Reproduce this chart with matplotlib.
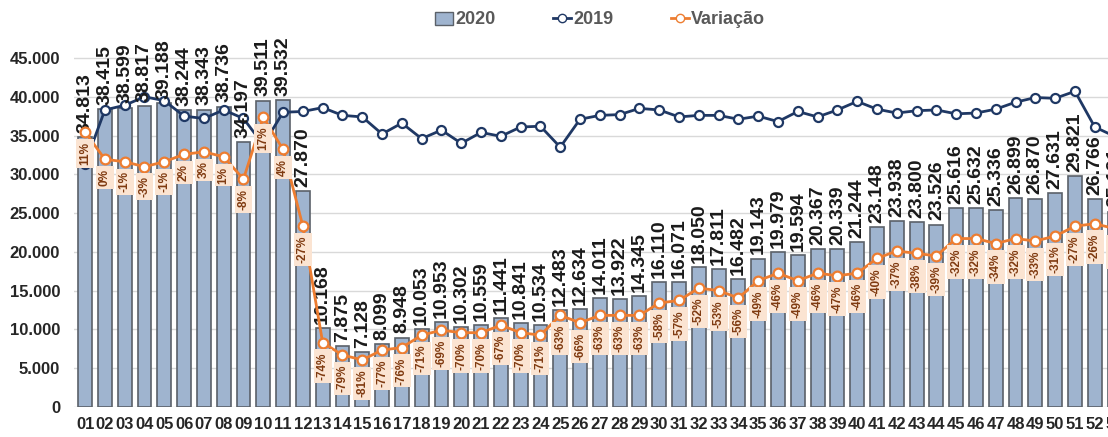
import matplotlib
matplotlib.use("Agg")
import matplotlib.pyplot as plt
from matplotlib.patches import Patch
from matplotlib.lines import Line2D
from matplotlib.ticker import FuncFormatter

plt.rcParams['font.family'] = ['Liberation Sans', 'DejaVu Sans']

# semanas
weeks = [f"{w:02d}" for w in range(1, 54)]

# 2020 (barras)
v2020 = [34813, 38415, 38599, 38817, 39188, 38244, 38343, 38736, 34197, 39511,
         39532, 27870, 10168, 7875, 7128, 8099, 8948, 10053, 10953, 10302,
         10559, 11441, 10841, 10534, 12483, 12634, 14011, 13922, 14345, 16110,
         16071, 18050, 17811, 16482, 19143, 19979, 19594, 20367, 20339, 21244,
         23148, 23938, 23800, 23526, 25616, 25632, 25336, 26899, 26870, 27631,
         29821, 26766, 25191]

# 2019 (linha azul)
v2019 = [31363, 38300, 38900, 40000, 39500, 37500, 37200, 38300, 37200, 33800,
         38000, 38100, 38600, 37600, 37400, 35200, 36600, 34600, 35700, 34000,
         35400, 34900, 36100, 36200, 33500, 37100, 37600, 37700, 38500, 38300,
         37400, 37600, 37600, 37100, 37500, 36800, 38100, 37400, 38300, 39400,
         38400, 37900, 38200, 38300, 37800, 37900, 38400, 39300, 39900, 39800,
         40700, 36100, 34900]

# variação (%)
variacao = [11, 0, -1, -3, -1, 2, 3, 1, -8, 17, 4, -27, -74, -79, -81, -77, -76,
            -71, -69, -70, -70, -67, -70, -71, -63, -66, -63, -63, -63, -58, -57,
            -52, -53, -56, -49, -46, -49, -46, -47, -46, -40, -37, -38, -39, -32,
            -32, -34, -32, -33, -31, -27, -26, -28]

yticks = [0, 5000, 10000, 15000, 20000, 25000, 30000, 35000, 40000, 45000]

bar_color = "#9fb4cf"
blue = "#1f3864"
orange = "#ed7d31"

x = list(range(len(weeks)))

fig = plt.figure(figsize=(11.08, 4.37), dpi=100)
ax = fig.add_axes([74 / 1108, 30 / 437, (1130 - 74) / 1108, 407 / 437])

ax.bar(x, v2020, width=0.7, color=bar_color, edgecolor="#5b6169", linewidth=1.2, zorder=2)
ax.plot(x, v2019, color=blue, linewidth=2, marker="o", markersize=6.5,
        markerfacecolor="white", markeredgecolor=blue, markeredgewidth=1.6, zorder=3)

for i, v in enumerate(v2020):
    ax.annotate(f"{v:,}".replace(",", "."), (i, v), xytext=(0, 3), textcoords="offset points",
                rotation=90, ha="center", va="bottom", fontsize=14, fontweight="bold",
                color="#1a1a1a", zorder=4)

ax.set_xlim(-0.56, 52.78)
ax.set_ylim(0, 52475)
ax.set_yticks(yticks)
ax.yaxis.set_major_formatter(FuncFormatter(lambda v, p: f"{int(v):,}".replace(",", ".")))
ax.set_xticks(x)
ax.set_xticklabels(weeks)
ax.tick_params(axis="both", length=0, labelsize=12, labelcolor="#262626")
ax.tick_params(axis="y", pad=10)
ax.tick_params(axis="x", pad=7)
for lab in ax.get_xticklabels() + ax.get_yticklabels():
    lab.set_fontweight("bold")
ax.grid(axis="y", color="#d9d9d9", linewidth=1, zorder=0)
ax.set_axisbelow(True)
for s in ax.spines.values():
    s.set_visible(False)

# eixo secundário para a variação
ax2 = ax.twinx()
ax2.plot(x, [p / 100 for p in variacao], color=orange, linewidth=2, marker="o", markersize=7,
         markerfacecolor="white", markeredgecolor=orange, markeredgewidth=1.6, zorder=3)
for i, p in enumerate(variacao):
    ax2.annotate(f"{p}%", (i, p / 100), xytext=(0, -7), textcoords="offset points",
                 rotation=90, ha="center", va="top", fontsize=8.5, fontweight="bold",
                 color="#7f3a10", zorder=5,
                 bbox=dict(boxstyle="square,pad=0.25", fc="#fbe4d2", ec="none"))
ax2.set_ylim(-1.0, 0.643)
ax2.set_yticks([])
for s in ax2.spines.values():
    s.set_visible(False)

handles = [Patch(facecolor=bar_color, edgecolor="#5b6169", linewidth=1),
           Line2D([], [], color=blue, linewidth=2, marker="o", markersize=6,
                  markerfacecolor="white", markeredgecolor=blue),
           Line2D([], [], color=orange, linewidth=2, marker="o", markersize=6,
                  markerfacecolor="white", markeredgecolor=orange)]
leg = fig.legend(handles, ["2020", "2019", "Variação"], loc="center",
                 bbox_to_anchor=(600 / 1108, 1 - 20 / 437), ncol=3, frameon=False,
                 handlelength=1.0, handletextpad=0.1, columnspacing=3.2,
                 prop={"size": 13, "weight": "bold"})
for t in leg.get_texts():
    t.set_color("#595959")

fig.savefig("out.png", dpi=100)
